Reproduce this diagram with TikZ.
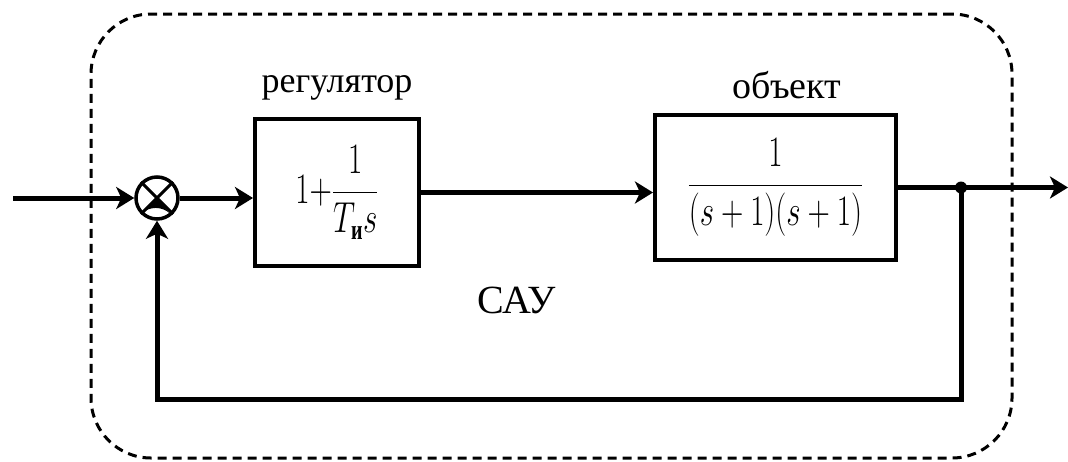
\RequirePackage{fix-cm}
\documentclass[tikz,border=0pt]{standalone}
\usepackage{fontspec}
\setmainfont{Liberation Serif}
\usepackage{graphicx}
\usetikzlibrary{arrows.meta,calc}
\begin{document}
\begin{tikzpicture}[x=1pt,y=-1pt,
  blk/.style={draw,line width=4pt,inner sep=0pt},
  conn/.style={line width=5pt,-{Stealth[length=18pt,width=22pt,inset=5pt]}},
  lbl/.style={font=\fontsize{36}{40}\selectfont, inner sep=0pt},
]
\useasboundingbox (0,0) rectangle (1068,461);
% frame
\node[draw, line width=3pt, dash pattern=on 9pt off 6pt, rounded corners=60pt,
      minimum width=921pt, minimum height=444pt, inner sep=0pt] (frame) at (551.5,236) {};
% summing junction
\node[draw, circle, line width=3.5pt, minimum size=42pt, inner sep=0pt] (sum) at (157,198) {};
\draw[line width=3pt] (sum.45) -- (sum.225) (sum.135) -- (sum.315);
\fill (sum.center) -- (sum.225) arc[start angle=135, end angle=45, radius=21pt] -- cycle;
% blocks
\node[blk, minimum width=164pt, minimum height=147pt] (b1) at (337,192.5)
  {\scalebox{1}[1.4]{\fontsize{31}{36}\selectfont$\displaystyle 1{+}\frac{1}{T_{\mbox{\fontsize{20}{20}\selectfont\bfseries и}}s}$}};
\node[blk, minimum width=241pt, minimum height=145pt] (b2) at (775.5,187.5)
  {\scalebox{1}[1.4]{\fontsize{31}{36}\selectfont$\displaystyle \frac{1}{(s+1)(s+1)}$}};
% labels
\node[lbl] (lreg) at (337,88) {регулятор};
\node[lbl, font=\fontsize{38}{42}\selectfont] (lobj) at (787,85) {объект};
\node[lbl, font=\fontsize{40}{44}\selectfont] (lsau) at (517,300) {САУ};
% coordinates
\coordinate (in) at (13,198);
\coordinate (dot) at (961,187.5);
\coordinate (out) at (1068,187.5);
\coordinate (fbL) at (157,399);
% connectors
\draw[conn] (in) -- (sum.west);
\draw[conn] (sum.east) -- (sum.east -| b1.west);
\draw[conn] (b1.east) -- (b1.east -| b2.west);
\draw[conn] (b2.east) -- (out);
\draw[conn] (dot) -- (dot |- fbL) -- (fbL) -- (sum.south);
\fill (dot) circle (6pt);
\end{tikzpicture}
\end{document}
